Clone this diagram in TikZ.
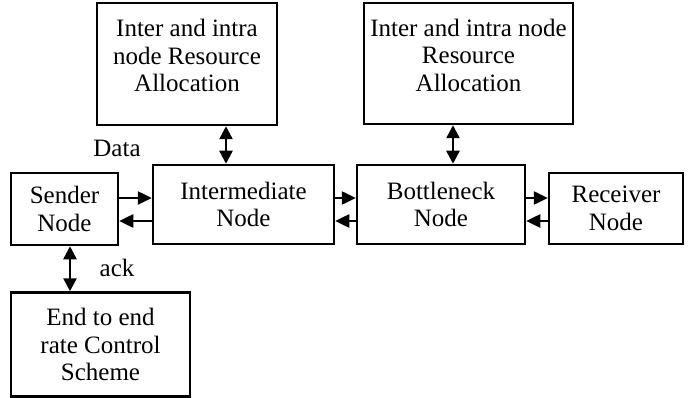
\documentclass[tikz,border=0pt]{standalone}
\usepackage{fontspec}
\setmainfont{Liberation Serif}
\usetikzlibrary{arrows.meta}
\begin{document}
\begin{tikzpicture}[x=1pt,y=-1pt]
    \tikzstyle{every node}=[draw,line width=2.5pt,align=center,inner sep=0pt,font=\fontsize{25}{27.5}\selectfont];
    \tikzstyle{lbl}=[draw=none];
    \tikzstyle{arr}=[line width=2.5pt,-{Triangle[length=14pt,width=13pt]}];
    \tikzstyle{dbl}=[line width=2.5pt,{Triangle[length=13pt,width=13pt]}-{Triangle[length=13pt,width=13pt]}];
    \useasboundingbox (0,0) rectangle (690,398);
    %boxes
    \node (top1) at (187,64) [minimum width=180pt,minimum height=122pt,text depth=17pt] {Inter and intra\\node Resource\\Allocation};
    \node (top2) at (468.5,63.5) [minimum width=209pt,minimum height=121pt,text depth=17pt] {Inter and intra node\\Resource\\Allocation};
    \node (sender) at (64.5,209) [minimum width=107pt,minimum height=72pt] {Sender\\Node};
    \node (inter) at (243.5,204.5) [minimum width=181pt,minimum height=79pt] {Intermediate\\Node};
    \node (bott) at (441,204.5) [minimum width=168pt,minimum height=79pt] {Bottleneck\\Node};
    \node (recv) at (616,208.5) [minimum width=134pt,minimum height=71pt] {Receiver\\Node};
    \node (e2e) at (100.5,344.5) [minimum width=179pt,minimum height=104pt] {End to end\\rate Control\\Scheme};
    \node (data) at (117,148) [lbl] {Data};
    \node (ack) at (117,268) [lbl] {ack};

    \draw[arr] (sender.east |- 0,198) -- (inter.west |- 0,198);
    \draw[arr] (inter.west |- 0,221) -- (sender.east |- 0,221);
    \draw[arr] (inter.east |- 0,198) -- (bott.west |- 0,198);
    \draw[arr] (bott.west |- 0,221) -- (inter.east |- 0,221);
    \draw[arr] (bott.east |- 0,198) -- (recv.west |- 0,198);
    \draw[arr] (recv.west |- 0,221) -- (bott.east |- 0,221);
    \draw[dbl] (top1.south -| 226,0) -- (inter.north -| 226,0);
    \draw[dbl] (top2.south -| 453,0) -- (bott.north -| 453,0);
    \draw[dbl] (sender.south -| 70,0) -- (e2e.north -| 70,0);
  \end{tikzpicture}
\end{document}
